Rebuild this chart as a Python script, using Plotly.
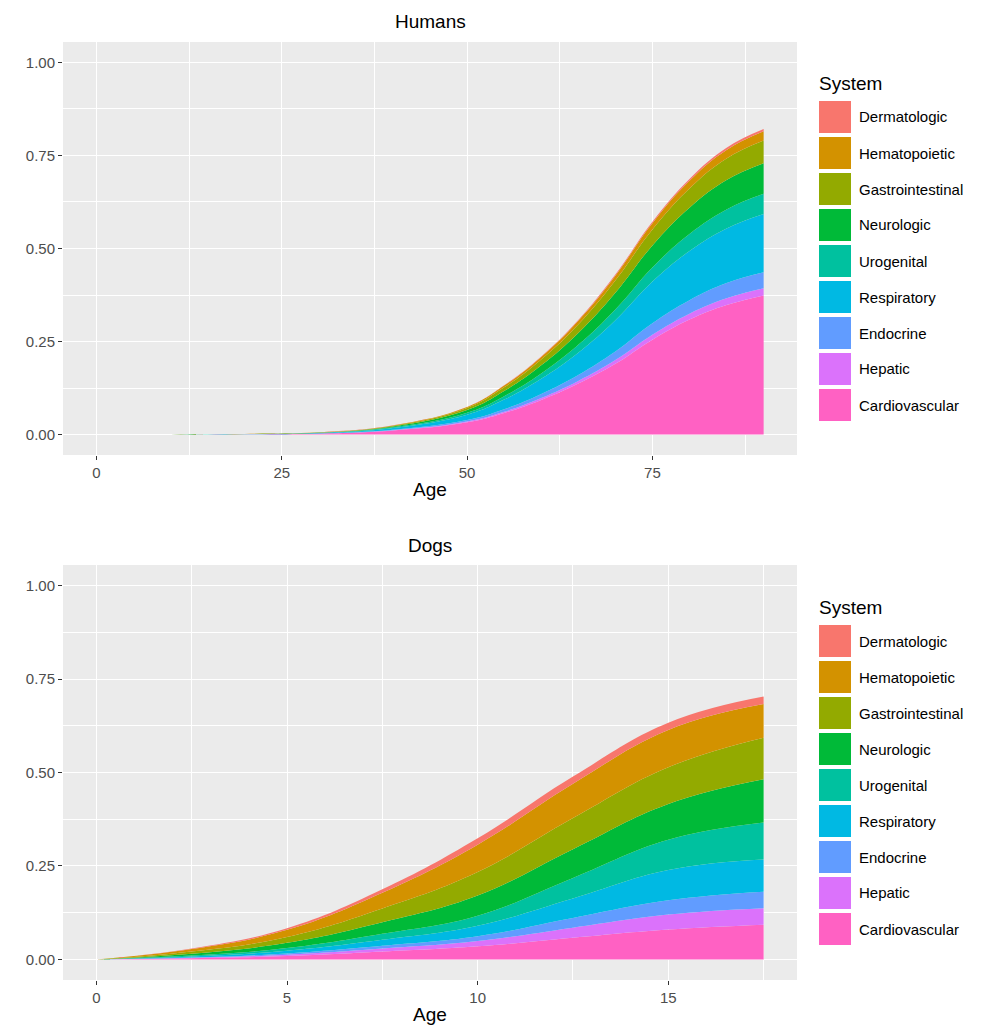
import plotly.graph_objects as go
from plotly.subplots import make_subplots

systems = ["Cardiovascular", "Hepatic", "Endocrine", "Respiratory", "Urogenital",
           "Neurologic", "Gastrointestinal", "Hematopoietic", "Dermatologic"]
colors = ["#FF61C3", "#DB72FB", "#619CFF", "#00B9E3", "#00C19F",
          "#00BA38", "#93AA00", "#D39200", "#F8766D"]

human_age = [0, 10, 20, 30, 40, 50, 55, 60, 65, 70, 75, 80, 85, 90]
human = {
    "Cardiovascular":   [0, .0002, .0007, .0026, .011, .033, .058, .093, .137, .19, .255, .309, .348, .374],
    "Hepatic":          [0, 0, 0, .0001, .0006, .0018, .003, .005, .007, .010, .013, .0157, .018, .019],
    "Endocrine":        [0, 0, .0001, .0003, .0013, .004, .007, .011, .016, .023, .031, .0363, .041, .043],
    "Respiratory":      [0, .0001, .0003, .0012, .0047, .0145, .026, .041, .060, .084, .112, .132, .147, .157],
    "Urogenital":       [0, 0, .0001, .0004, .0017, .005, .009, .014, .021, .029, .038, .046, .051, .054],
    "Neurologic":       [0, .0001, .0001, .0006, .0025, .0076, .014, .022, .032, .045, .059, .0705, .079, .082],
    "Gastrointestinal": [0, 0, .0001, .0005, .0019, .0056, .010, .016, .023, .033, .043, .052, .058, .061],
    "Hematopoietic":    [0, 0, .0001, .0002, .0008, .0023, .0045, .0065, .010, .013, .017, .0206, .023, .025],
    "Dermatologic":     [0, 0, 0, .0001, .0002, .0005, .001, .0015, .002, .003, .004, .0049, .006, .006],
}

dog_age = [0, 2.5, 5, 7.5, 10, 12.5, 15, 17.5]
dog = {
    "Cardiovascular":   [0, .003, .009, .021, .035, .058, .080, .093],
    "Hepatic":          [0, .0013, .0036, .008, .014, .027, .040, .044],
    "Endocrine":        [0, .0012, .0034, .0075, .013, .026, .038, .044],
    "Respiratory":      [0, .0025, .0073, .016, .028, .052, .081, .086],
    "Urogenital":       [0, .0024, .007, .016, .027, .055, .081, .099],
    "Neurologic":       [0, .005, .014, .031, .054, .077, .096, .116],
    "Gastrointestinal": [0, .0057, .016, .037, .063, .083, .098, .111],
    "Hematopoietic":    [0, .0066, .019, .042, .073, .092, .100, .090],
    "Dermatologic":     [0, .0015, .004, .009, .017, .019, .019, .020],
}

OFF = 8  # page body margin
W, H = 987 - OFF, 1035 - OFF
L, R, T, B = 63 - OFF, 797 - OFF, 42 - OFF, 980 - OFF

fig = make_subplots(rows=2, cols=1, vertical_spacing=0.118)
for row, ages, data in [(1, human_age, human), (2, dog_age, dog)]:
    for s, c in zip(systems, colors):
        fig.add_trace(go.Scatter(x=ages, y=data[s], name=s, stackgroup=f"g{row}", showlegend=False,
                                 mode="lines", line=dict(width=0, color=c, shape="spline", smoothing=1.2),
                                 fillcolor=c), row=row, col=1)

axis_common = dict(showgrid=True, gridcolor="white", gridwidth=1.3, zeroline=False, automargin=False,
                   ticks="outside", ticklen=4, tickcolor="#333", tickfont=dict(size=15, color="#4d4d4d"),
                   showline=False)
fig.update_xaxes(**axis_common, title=dict(text="Age", font=dict(size=19, color="black"), standoff=2))
fig.update_yaxes(**axis_common, range=[-0.055, 1.055], tickvals=[0, .25, .5, .75, 1],
                 ticktext=["0.00", "0.25", "0.50", "0.75", "1.00"],
                 minor=dict(dtick=0.125, tick0=0.125, showgrid=True, gridcolor="white", gridwidth=0.5, ticks=""))
fig.update_xaxes(range=[-4.5, 94.5], tickvals=[0, 25, 50, 75],
                 minor=dict(dtick=12.5, tick0=12.5, showgrid=True, gridcolor="white", gridwidth=0.5, ticks=""),
                 row=1, col=1)
fig.update_xaxes(range=[-0.875, 18.375], tickvals=[0, 5, 10, 15],
                 minor=dict(dtick=2.5, tick0=2.5, showgrid=True, gridcolor="white", gridwidth=0.5, ticks=""),
                 row=2, col=1)
fig.update_yaxes(domain=[(980 - 455) / (980 - 42), 1.0], row=1, col=1)
fig.update_yaxes(domain=[0.0, (980 - 565) / (980 - 42)], row=2, col=1)

def px(x):
    return (x - 63) / (797 - 63)

def py(y):
    return (980 - y) / (980 - 42)

shapes, annots = [], []
for title_y, first_y in [(83, 101), (607, 625)]:
    annots.append(dict(text="System", x=px(817), y=py(title_y), xref="paper", yref="paper",
                       xanchor="left", yanchor="middle", showarrow=False, font=dict(size=19)))
    for i, (s, c) in enumerate(zip(systems[::-1], colors[::-1])):
        y0 = first_y + 36 * i
        shapes.append(dict(type="rect", xref="paper", yref="paper", x0=px(819), x1=px(851),
                           y0=py(y0 + 32), y1=py(y0), fillcolor=c, line=dict(width=0)))
        annots.append(dict(text=s, x=px(857), y=py(y0 + 16), xref="paper", yref="paper",
                           xanchor="left", yanchor="middle", showarrow=False, font=dict(size=15)))

annots += [
    dict(text="Humans", x=0.5, y=py(22), xref="paper", yref="paper", yanchor="middle", showarrow=False,
         font=dict(size=19)),
    dict(text="Dogs", x=0.5, y=py(545), xref="paper", yref="paper", yanchor="middle", showarrow=False,
         font=dict(size=19)),
]

fig.update_layout(
    width=W, height=H, plot_bgcolor="#EBEBEB", paper_bgcolor="white",
    font=dict(family="Liberation Sans, Arial, sans-serif", color="black"),
    margin=dict(l=L, r=W - R, t=T, b=H - B, autoexpand=False),
    showlegend=False, shapes=shapes, annotations=annots,
)
fig.write_html("out.html")
